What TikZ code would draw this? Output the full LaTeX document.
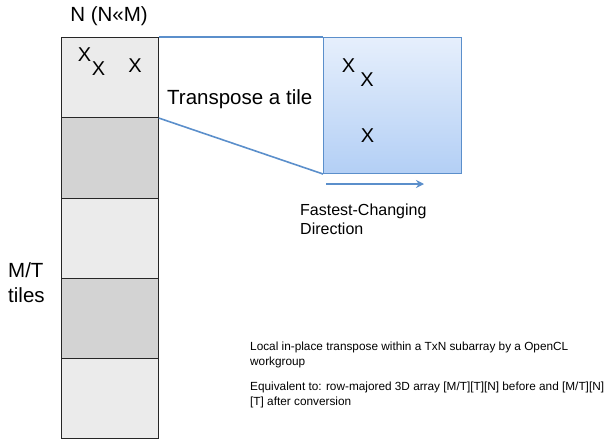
\documentclass[tikz,border=0pt]{standalone}
\usepackage{fontspec}
\setmainfont{Liberation Sans}
\usetikzlibrary{arrows.meta}

\definecolor{tilelight}{HTML}{EBEBEB}
\definecolor{tiledark}{HTML}{D3D3D3}
\definecolor{linkblue}{HTML}{5B8FCB}
\definecolor{boxtop}{HTML}{E6EFFC}
\definecolor{boxbot}{HTML}{B3CFF5}

\tikzset{
  tile/.style={draw=black!85, line width=0.8pt, inner sep=0pt,
    minimum width=97pt, minimum height=80.25pt, anchor=north west},
  link/.style={draw=linkblue, line width=1.6pt},
  bigtext/.style={inner sep=0pt, font=\fontsize{20.5}{25}\selectfont},
  midtext/.style={inner sep=0pt, align=left, font=\fontsize{16}{19}\selectfont},
  smalltext/.style={inner sep=0pt, align=left, font=\fontsize{11.8}{15.5}\selectfont},
  mark x/.style={inner sep=0pt, font=\fontsize{20}{24}\selectfont},
}

\begin{document}
\begin{tikzpicture}[x=1pt, y=-1pt]
  \useasboundingbox (0,0) rectangle (612,439);

  % column of M/T tiles
  \node[tile, fill=tilelight] (t1) at (61,37)     {};
  \node[tile, fill=tiledark]  (t2) at (61,117.25) {};
  \node[tile, fill=tilelight] (t3) at (61,197.5)  {};
  \node[tile, fill=tiledark]  (t4) at (61,277.75) {};
  \node[tile, fill=tilelight] (t5) at (61,358)    {};

  % transposed tile
  \node[draw=linkblue, line width=1pt, top color=boxtop, bottom color=boxbot,
        minimum width=138pt, minimum height=136pt, inner sep=0pt,
        anchor=north west] (blk) at (323,37) {};

  % zoom lines from the tile to its transpose
  \draw[link] (t1.north east) -- (blk.north west);
  \draw[link] (t1.south east) -- (blk.south west);

  % elements inside the tile
  \node[mark x] (x1) at (84.5,55)  {X};
  \node[mark x] (x2) at (98.5,69)  {X};
  \node[mark x] (x3) at (135,65.5) {X};

  % elements inside the transposed tile
  \node[mark x] (y1) at (348.5,65.5) {X};
  \node[mark x] (y2) at (367,80)     {X};
  \node[mark x] (y3) at (367.5,135.5){X};

  % direction arrow
  \coordinate (dirA) at (326,184);
  \coordinate (dirB) at (424,184);
  \draw[link, line width=2pt, -{Stealth[length=8pt, width=8pt]}] (dirA) -- (dirB);

  % labels (multi-line nodes are placed by their last baseline)
  \node[bigtext, anchor=base] (ntitle) at (109,21) {N (N«M)};
  \node[bigtext, anchor=base west] (tlabel) at (167,104) {Transpose a tile};
  \node[bigtext, align=left, anchor=base west] (mtlabel) at (8,302) {M/T\\tiles};
  \node[midtext, anchor=base west] (dirlabel) at (300,234) {Fastest-Changing\\Direction};
  \node[smalltext, anchor=base west] (note1) at (250,365.5)
    {Local in-place transpose within a TxN subarray by a OpenCL\\workgroup};
  \node[smalltext, anchor=base west] (note2) at (250,405.5)
    {Equivalent to: row-majored 3D array [M/T][T][N] before and [M/T][N]\\{}[T] after conversion};
\end{tikzpicture}
\end{document}
